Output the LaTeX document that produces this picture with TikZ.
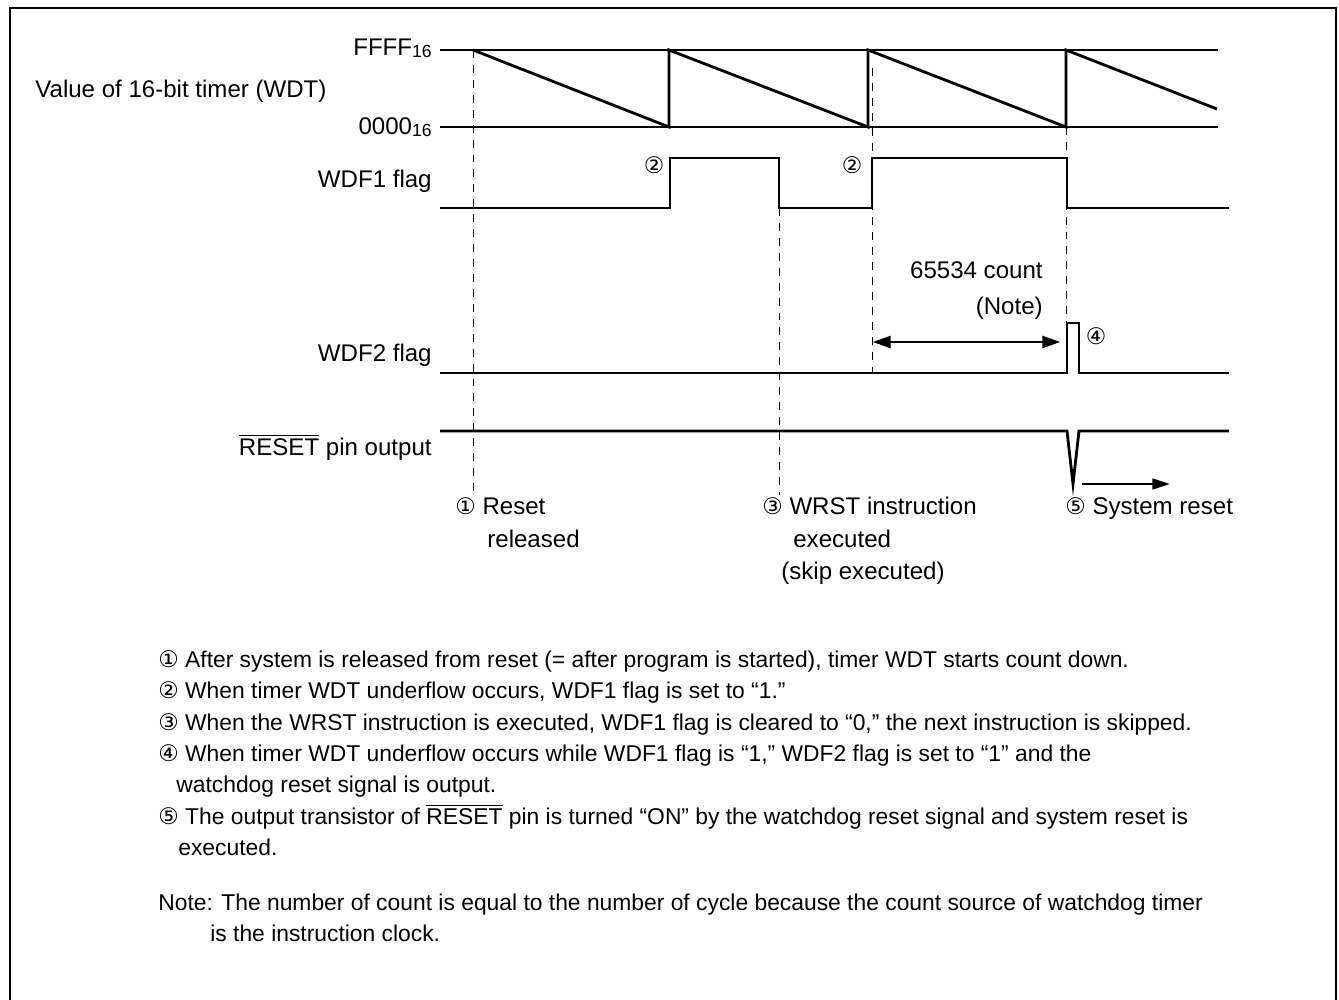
\documentclass[tikz,border=0pt]{standalone}
\usepackage{fontspec}
\setmainfont{Liberation Sans}
\newfontfamily\circfont{DejaVu Sans}
\usepackage{tikz}
\usetikzlibrary{arrows.meta, positioning}

\newcommand{\cnum}[1]{{\circfont\fontsize{13}{14}\selectfont #1}}
\newcommand{\hexsub}[1]{\raisebox{-1pt}{\fontsize{10}{10}\selectfont #1}}
\newcommand{\ovl}[1]{$\overline{\mbox{#1}}$}

\begin{document}
\begin{tikzpicture}[x=0.02cm, y=-0.02cm, font=\fontsize{13.7}{16}\selectfont,
    sig/.style={line width=1.6pt, line join=miter},
    refline/.style={line width=0.6pt},
    guide/.style={line width=0.5pt, dash pattern=on 4.5pt off 4pt},
    lbl/.style={anchor=base east, inner sep=0},
    txt/.style={anchor=base west, inner sep=0},
    notetxt/.style={txt, font=\fontsize{13}{16}\selectfont},
    circ/.style={inner sep=0}]
  \useasboundingbox (0,0) rectangle (1339,1000);
  %% Frame (open at the bottom)
  \draw[line width=1.2pt] (10,1010) -- (10,8) -- (1336,8) -- (1336,1010);

  %% Row labels
  \node[lbl] (ffff) at (432,56) {FFFF\hexsub{16}};
  \node[lbl] (zero) at (432,135) {0000\hexsub{16}};
  \node[txt] (wdt) at (35,98) {Value of 16-bit timer (WDT)};
  \node[lbl] (wdf1) at (432,188) {WDF1 flag};
  \node[lbl] (wdf2) at (432,361) {WDF2 flag};
  \node[lbl] (rstpin) at (432,455) {\ovl{RESET} pin output};

  %% Timer value: FFFF and 0000 levels, sawtooth
  \draw[refline] (440,50) -- (1218,50);
  \draw[refline] (440,127) -- (1218,127);
  \draw[sig] (473,50) -- (669,127) -- (669,50) -- (868,127) -- (868,50)
    -- (1066,127) -- (1066,50) -- (1217,109);

  %% WDF1 flag
  \draw[sig] (440,208) -- (670,208) -- (670,158) -- (779,158) -- (779,208)
    -- (872,208) -- (872,158) -- (1067,158) -- (1067,208) -- (1229,208);
  \node[circ] (set1) at (654,165) {\cnum{②}};
  \node[circ] (set2) at (852,165) {\cnum{②}};

  %% WDF2 flag
  \draw[sig] (440,373) -- (1067,373) -- (1067,323) -- (1079,323) -- (1079,373)
    -- (1229,373);
  \node[circ] (set4) at (1096,336) {\cnum{④}};

  %% RESET pin output
  \draw[sig] (440,431) -- (1067,431) -- (1073,484) -- (1079,431) -- (1229,431);

  %% Dashed guides
  \draw[guide] (473,50) -- (473,492);
  \draw[guide] (779,208) -- (779,495);
  \draw[guide] (872,68) -- (872,372);
  \draw[guide] (1066,127) -- (1066,323);

  %% 65534 count
  \coordinate (cntL) at (873,342);
  \coordinate (cntR) at (1060,342);
  \draw[line width=0.6pt, {Triangle[length=10pt,width=7pt]}-{Triangle[length=10pt,width=7pt]}]
    (cntL) -- (cntR);
  \node[lbl] (cnt) at (1043,278) {65534 count};
  \node[lbl] (cntnote) at (1043,315) {(Note)};

  %% System reset arrow
  \coordinate (sysA) at (1082,484);
  \coordinate (sysB) at (1170,484);
  \draw[sig, -{Triangle[length=10pt,width=6pt]}] (sysA) -- (sysB);

  %% Event captions
  \node[txt] (ev1) at (455,514) {\cnum{①} Reset};
  \node[txt] (ev1b) at (487,547) {released};
  \node[txt] (ev3) at (762,514) {\cnum{③} WRST instruction};
  \node[txt] (ev3b) at (793,547) {executed};
  \node[txt] (ev3c) at (781,579) {(skip executed)};
  \node[txt] (ev5) at (1065,514) {\cnum{⑤} System reset};

  %% Explanations
  \node[notetxt] (n1) at (158,667) {\cnum{①} After system is released from reset (= after program is started), timer WDT starts count down.};
  \node[notetxt] (n2) at (158,698) {\cnum{②} When timer WDT underflow occurs, WDF1 flag is set to “1.”};
  \node[notetxt] (n3) at (158,730) {\cnum{③} When the WRST instruction is executed, WDF1 flag is cleared to “0,” the next instruction is skipped.};
  \node[notetxt] (n4) at (158,761) {\cnum{④} When timer WDT underflow occurs while WDF1 flag is “1,” WDF2 flag is set to “1” and the};
  \node[notetxt] (n4b) at (176,792) {watchdog reset signal is output.};
  \node[notetxt] (n5) at (158,824) {\cnum{⑤} The output transistor of \ovl{RESET} pin is turned “ON” by the watchdog reset signal and system reset is};
  \node[notetxt] (n5b) at (178,855) {executed.};
  \node[notetxt] (note) at (158,910) {Note: The number of count is equal to the number of cycle because the count source of watchdog timer};
  \node[notetxt] (noteb) at (210,941) {is the instruction clock.};
\end{tikzpicture}
\end{document}
